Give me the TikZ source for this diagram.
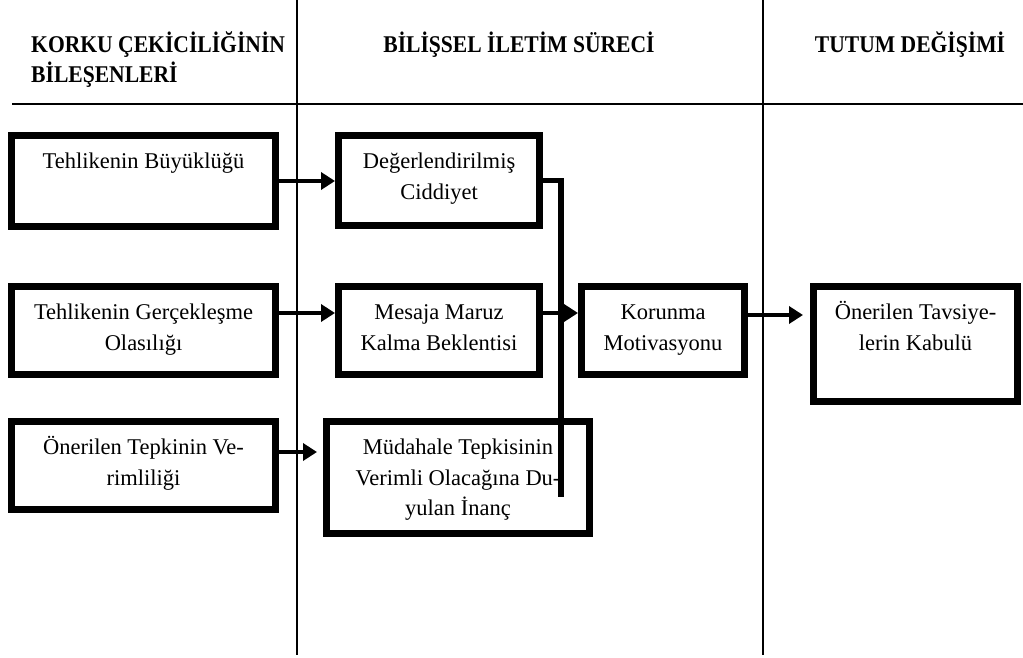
\documentclass[tikz,border=0pt]{standalone}
\usepackage{fontspec}
\setmainfont{Liberation Serif}
\usetikzlibrary{arrows.meta}
\newcommand\boxtxt[4]{\parbox[c][#1][t]{#2}{\centering\rule{0pt}{#3}#4}}
\newcommand\hdrtxt[1]{\scalebox{0.9}[1]{#1}}
\begin{document}
\begin{tikzpicture}[x=1pt,y=-1pt,
  box/.style={draw, line width=7pt, inner sep=0pt, outer sep=3.5pt, anchor=north west,
              font=\fontsize{22.5}{30.5}\selectfont},
  hdr/.style={inner sep=0pt, font=\fontsize{24}{28}\selectfont\bfseries},
  sepline/.style={line width=1.2pt},
  arr/.style={line width=4.5pt, -{Triangle[length=14pt,width=17pt]}},
  conn/.style={line width=5.5pt}]
\useasboundingbox (0,0) rectangle (1023,658);
% separators
\draw[sepline] (297,0) -- (297,655);
\draw[sepline] (763,0) -- (763,655);
\draw[line width=2pt] (12,104) -- (1023,104);
% headers
\node[hdr, anchor=base west] (h1) at (31,53) {\hdrtxt{KORKU ÇEKİCİLİĞİNİN}};
\node[hdr, anchor=base west] (h1b) at (31,83) {\hdrtxt{BİLEŞENLERİ}};
\node[hdr, anchor=base] (h2) at (519,53) {\hdrtxt{BİLİŞSEL İLETİM SÜRECİ}};
\node[hdr, anchor=base] (h3) at (910,53) {\hdrtxt{TUTUM DEĞİŞİMİ}};
% boxes
\node[box] (A) at (8,132) {\boxtxt{91pt}{264pt}{33pt}{Tehlikenin Büyüklüğü}};
\node[box] (B) at (335,132) {\boxtxt{90pt}{201pt}{33pt}{Değerlendirilmiş\\Ciddiyet}};
\node[box] (C) at (8,283) {\boxtxt{88pt}{264pt}{33pt}{Tehlikenin Gerçekleşme\\Olasılığı}};
\node[box] (D) at (335,283) {\boxtxt{88pt}{201pt}{33pt}{Mesaja Maruz\\Kalma Beklentisi}};
\node[box] (E) at (578,283) {\boxtxt{88pt}{163pt}{33pt}{Korunma\\Motivasyonu}};
\node[box] (F) at (810,283) {\boxtxt{115pt}{204pt}{33pt}{Önerilen Tavsiye-\\lerin Kabulü}};
\node[box] (G) at (8,418) {\boxtxt{88pt}{264pt}{33pt}{Önerilen Tepkinin Ve-\\rimliliği}};
\node[box] (H) at (323,418) {\boxtxt{112pt}{263pt}{33pt}{Müdahale Tepkisinin\\Verimli Olacağına Du-\\yulan İnanç}};
% connector from B down
\coordinate (jend) at (561,497);
\draw[conn] (B.east) -| (jend);
% arrows
\draw[arr] (A.east) -- (A.east -| B.west);
\draw[arr] ([yshift=17.5pt]C.east) -- ([yshift=17.5pt]C.east -| D.west);
\draw[arr] ([yshift=17.5pt]D.east) -- ([yshift=17.5pt]D.east -| E.west);
\draw[arr, shorten >=7pt] ([yshift=15.5pt]E.east) -- ([yshift=15.5pt]E.east -| F.west);
\draw[arr, shorten >=6pt] ([yshift=13.5pt]G.east) -- ([yshift=13.5pt]G.east -| H.west);
\end{tikzpicture}
\end{document}
